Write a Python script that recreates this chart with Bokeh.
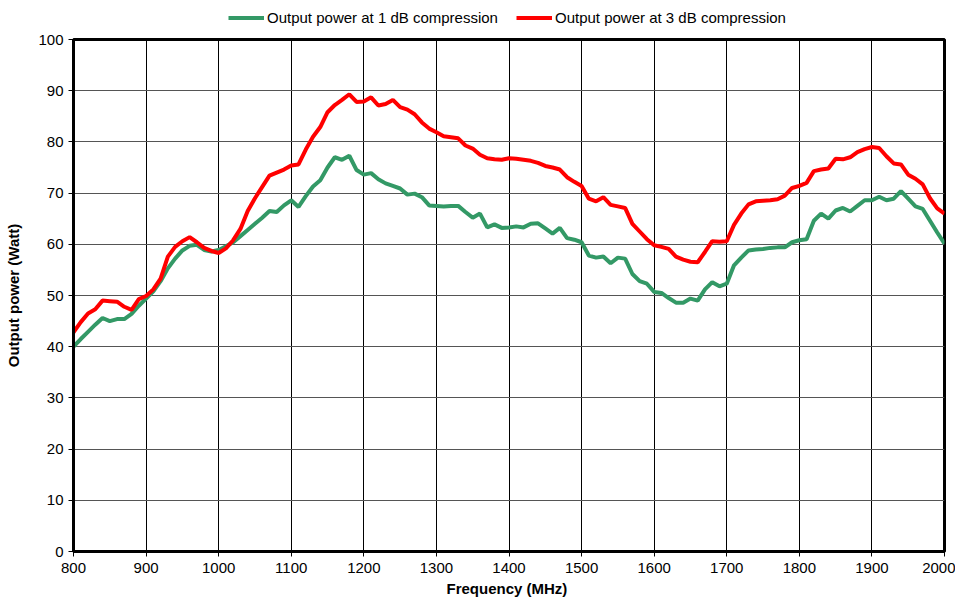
from bokeh.plotting import figure
from bokeh.models import Legend, LegendItem, ColumnDataSource, FixedTicker, Range1d
from bokeh.layouts import column
from bokeh.embed import file_html
from bokeh.resources import INLINE

freq = list(range(800, 2001, 10))

p1db = [40.0, 41.5, 42.9, 44.3, 45.6, 45.0, 45.4, 45.4, 46.4, 48.0,
        49.4, 50.8, 52.8, 55.3, 57.2, 58.8, 59.7, 59.9, 58.9, 58.6,
        58.9, 59.6, 60.4, 61.6, 62.8, 64.0, 65.2, 66.5, 66.3, 67.6,
        68.6, 67.3, 69.4, 71.3, 72.5, 75.0, 77.0, 76.5, 77.3, 74.5,
        73.6, 73.9, 72.7, 71.9, 71.4, 70.9, 69.7, 69.9, 69.2, 67.6,
        67.5, 67.4, 67.5, 67.5, 66.3, 65.2, 66.0, 63.3, 63.9, 63.2,
        63.3, 63.5, 63.3, 64.0, 64.1, 63.1, 62.1, 63.2, 61.2, 60.9,
        60.4, 57.8, 57.4, 57.6, 56.3, 57.4, 57.2, 54.2, 52.8, 52.3,
        50.7, 50.5, 49.5, 48.6, 48.6, 49.4, 49.0, 51.2, 52.6, 51.8,
        52.3, 55.9, 57.4, 58.8, 59.0, 59.1, 59.3, 59.4, 59.4, 60.4,
        60.8, 61.0, 64.6, 66.0, 65.0, 66.6, 67.1, 66.4, 67.5, 68.6,
        68.6, 69.3, 68.6, 68.9, 70.4, 68.9, 67.4, 66.9, 64.6, 62.3,
        60.1]

p3db = [42.8, 44.8, 46.5, 47.3, 49.0, 48.9, 48.8, 47.8, 47.2, 49.3,
        49.9, 51.2, 53.3, 57.6, 59.5, 60.6, 61.4, 60.4, 59.3, 58.7,
        58.3, 59.2, 60.8, 63.0, 66.5, 69.0, 71.2, 73.4, 74.0, 74.6,
        75.4, 75.6, 78.5, 81.0, 82.9, 85.8, 87.2, 88.2, 89.3, 87.8,
        87.9, 88.7, 87.1, 87.4, 88.2, 86.8, 86.3, 85.4, 83.8, 82.6,
        81.9, 81.1, 80.9, 80.7, 79.3, 78.7, 77.5, 76.8, 76.6, 76.5,
        76.8, 76.7, 76.5, 76.3, 75.9, 75.3, 75.0, 74.6, 73.1, 72.2,
        71.4, 68.9, 68.4, 69.2, 67.7, 67.4, 67.1, 64.0, 62.5, 61.0,
        59.8, 59.5, 59.1, 57.6, 57.0, 56.6, 56.5, 58.5, 60.6, 60.5,
        60.6, 63.8, 66.0, 67.8, 68.4, 68.5, 68.6, 68.8, 69.5, 71.0,
        71.4, 72.0, 74.3, 74.6, 74.8, 76.7, 76.6, 77.0, 78.0, 78.6,
        79.0, 78.8, 77.2, 75.8, 75.6, 73.6, 72.8, 71.7, 69.0, 67.0,
        66.0]

x_ticks = list(range(800, 2001, 100))
y_ticks = list(range(0, 101, 10))
series_names = ["Output power at 1 dB compression", "Output power at 3 dB compression"]
series_colors = ["#339966", "#FF0000"]

FONT = "Liberation Sans"
FS = "15px"

# main chart
p = figure(width=955, height=572, output_backend="svg", toolbar_location=None,
           x_range=Range1d(800, 2000), y_range=Range1d(0, 100),
           min_border_left=73, min_border_right=11, min_border_top=11, min_border_bottom=49)

src = ColumnDataSource(dict(f=freq, a=p1db, b=p3db))
g = p.line("f", "a", source=src, line_color=series_colors[0], line_width=4)
r = p.line("f", "b", source=src, line_color=series_colors[1], line_width=4)

p.outline_line_color = "black"
p.outline_line_width = 3

p.xaxis.ticker = FixedTicker(ticks=x_ticks)
p.yaxis.ticker = FixedTicker(ticks=y_ticks)
for ax in (p.xaxis[0], p.yaxis[0]):
    ax.axis_line_color = "black"
    ax.axis_line_width = 3
    ax.major_tick_line_color = "black"
    ax.major_tick_in = 0
    ax.major_tick_out = 5
    ax.minor_tick_line_color = None
    ax.major_label_text_font = FONT
    ax.major_label_text_font_size = FS
    ax.major_label_text_color = "black"
    ax.axis_label_text_font = FONT
    ax.axis_label_text_font_size = FS
    ax.axis_label_text_font_style = "bold"
    ax.axis_label_text_color = "black"

p.xaxis.axis_label = "Frequency  (MHz)"
p.yaxis.axis_label = "Output power (Watt)"
p.xaxis.major_label_standoff = 6
p.xaxis.axis_label_standoff = 4
p.yaxis.major_label_standoff = 5
p.yaxis.axis_label_standoff = 13

p.xgrid.ticker = FixedTicker(ticks=x_ticks)
p.ygrid.ticker = FixedTicker(ticks=y_ticks)
p.xgrid.grid_line_color = "black"
p.xgrid.grid_line_width = 1
p.ygrid.grid_line_color = "#555555"
p.ygrid.grid_line_width = 1

# legend strip above the chart (legend renderers sit outside its 0..1 view)
lf = figure(width=955, height=28, output_backend="svg", toolbar_location=None,
            x_range=Range1d(0, 1), y_range=Range1d(0, 1),
            x_axis_location=None, y_axis_location=None,
            min_border_left=0, min_border_right=0, min_border_top=0, min_border_bottom=0)
lf.outline_line_color = None
lf.xgrid.visible = False
lf.ygrid.visible = False
lg = lf.line(x=[freq[0], freq[1]], y=[p1db[0], p1db[1]], line_color=series_colors[0], line_width=4)
lr = lf.line(x=[freq[0], freq[1]], y=[p3db[0], p3db[1]], line_color=series_colors[1], line_width=4)

legend = Legend(items=[LegendItem(label=series_names[0], renderers=[lg]),
                       LegendItem(label=series_names[1], renderers=[lr])],
                orientation="horizontal", location=(155, 2),
                label_text_font=FONT, label_text_font_size=FS, label_text_color="black",
                glyph_width=36, glyph_height=15, label_standoff=3, spacing=18,
                padding=0, margin=0, border_line_alpha=0, background_fill_alpha=0,
                label_height=15)
lf.add_layout(legend, "center")

layout = column(lf, p, spacing=0)
open("out.html", "w").write(file_html(layout, INLINE))
